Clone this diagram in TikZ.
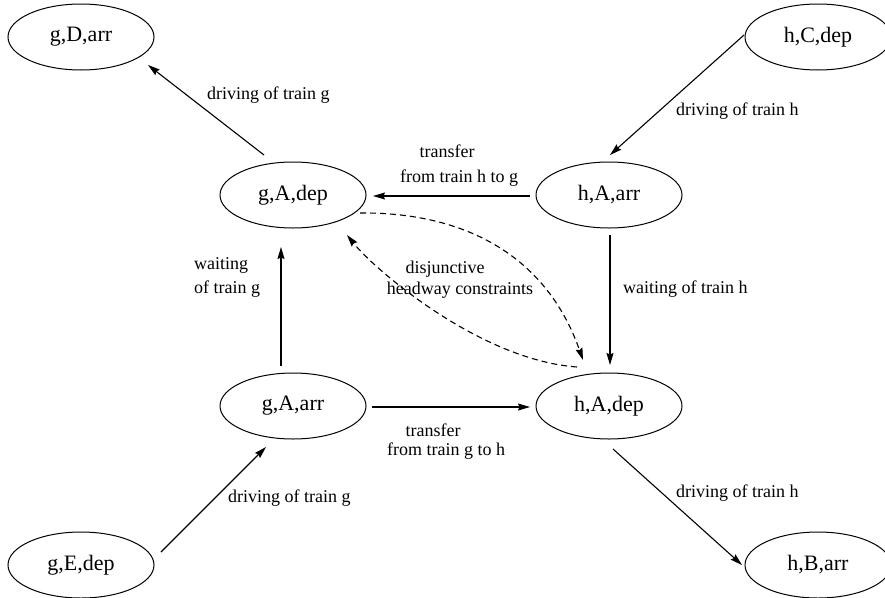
\documentclass[tikz,border=0pt]{standalone}
\usepackage{fontspec}
\setmainfont{Liberation Serif}
\usetikzlibrary{arrows.meta,shapes.geometric,calc}
\begin{document}
\begin{tikzpicture}[x=1pt,y=-1pt,
  state/.style={ellipse,draw,line width=1pt,minimum width=146pt,minimum height=66pt,inner sep=0pt,font=\rmfamily\fontsize{22}{26}\selectfont},
  lbl/.style={font=\rmfamily\fontsize{18}{21}\selectfont,inner sep=0pt},
  arr/.style={line width=1.1pt,-{Stealth[length=12pt,width=7pt,inset=1.5pt]}},
  dsh/.style={arr,dash pattern=on 6pt off 4pt}]
\useasboundingbox (0,0) rectangle (885,597);
\clip (0,0) rectangle (885,597);
% states
\node[state] (gDarr) at (81,37) {g,D,arr};
\node[state] (hCdep) at (818,37) {h,C,dep};
\node[state] (gAdep) at (293,195) {g,A,dep};
\node[state] (hAarr) at (609,195) {h,A,arr};
\node[state] (gAarr) at (293,406) {g,A,arr};
\node[state] (hAdep) at (609,406) {h,A,dep};
\node[state] (gEdep) at (81,565) {g,E,dep};
\node[state] (hBarr) at (818,565) {h,B,arr};
% solid arcs
\draw[arr] ($(gAdep)+(-29,-40)$) -- ($(gDarr)+(67,28)$);
\draw[arr] ($(hCdep)+(-74,-2)$) -- ($(hAarr)+(1,-40)$);
\draw[arr] ($(hAarr)+(-79,1)$) -- ($(gAdep)+(80,1)$);
\draw[arr] ($(hAarr)+(1,40)$) -- ($(hAdep)+(1,-41)$);
\draw[arr] ($(gAarr)+(-12,-40)$) -- ($(gAdep)+(-12,52)$);
\draw[arr] ($(gAarr)+(79,1)$) -- ($(hAdep)+(-79,1)$);
\draw[arr] ($(gEdep)+(80,-13)$) -- ($(gAarr)+(-27,41)$);
\draw[arr] ($(hAdep)+(4,43)$) -- ($(hBarr)+(-76,0)$);
% dashed headway arcs
\draw[dsh] ($(gAdep)+(67,18)$) .. controls (460,212) and (545,252) .. ($(hAdep)+(-26,-46)$);
\draw[dsh] ($(hAdep)+(-32,-39)$) .. controls (480,360) and (375,270) .. ($(gAdep)+(54,40)$);
% labels
\node[lbl,anchor=west] (l1) at (207,95) {driving of train g};
\node[lbl,anchor=west] (l2) at (676,111) {driving of train h};
\node[lbl] (l3a) at (447,151) {transfer};
\node[lbl] (l3b) at (459,178) {from train h to g};
\node[lbl,anchor=west] (l4) at (623,289) {waiting of train h};
\node[lbl,anchor=west] (l5a) at (194,265) {waiting};
\node[lbl,anchor=west] (l5b) at (194,289) {of train g};
\node[lbl] (l6a) at (445,269) {disjunctive};
\node[lbl] (l6b) at (460,290) {headway constraints};
\node[lbl] (l7a) at (433,430) {transfer};
\node[lbl] (l7b) at (446,451) {from train g to h};
\node[lbl,anchor=west] (l8) at (228,498) {driving of train g};
\node[lbl,anchor=west] (l9) at (676,493) {driving of train h};
\end{tikzpicture}
\end{document}
